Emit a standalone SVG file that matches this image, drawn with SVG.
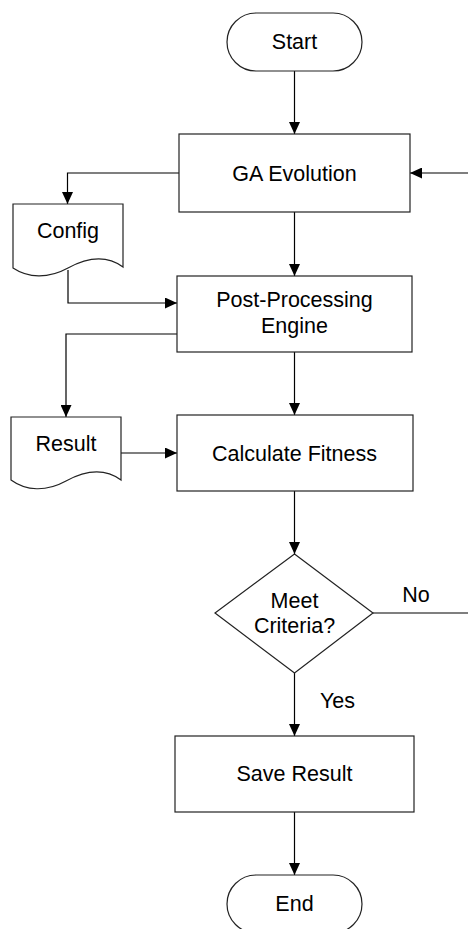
<svg xmlns="http://www.w3.org/2000/svg" width="468" height="929" viewBox="0 0 468 929">
  <defs>
    <marker id="arrow" markerUnits="userSpaceOnUse" markerWidth="12" markerHeight="11" refX="12" refY="5.5" orient="auto">
      <path d="M0,0 L12,5.5 L0,11 Z" fill="#000"/>
    </marker>
    <style>
      .shape { fill: #fff; stroke: #222; stroke-width: 1.2; }
      .wire { fill: none; stroke: #000; stroke-width: 1.2; }
      .arr { marker-end: url(#arrow); }
      text { font-family: "Liberation Sans", Arial, sans-serif; font-size: 21.5px; fill: #000; text-anchor: middle; }
    </style>
  </defs>

  <rect width="468" height="929" fill="#fff"/>

  <g id="connectors">
    <path class="wire arr" d="M294.5,71 V134"/>
    <path class="wire arr" d="M468,173 H410"/>
    <path class="wire arr" d="M179,173 H67.5 V204"/>
    <path class="wire arr" d="M294.5,212 V276"/>
    <path class="wire arr" d="M68,270 V303 H177"/>
    <path class="wire arr" d="M177,334 H66 V417"/>
    <path class="wire arr" d="M294.5,352 V415"/>
    <path class="wire arr" d="M121,453 H177"/>
    <path class="wire arr" d="M294.5,491 V554"/>
    <path class="wire" d="M373,613 H468"/>
    <path class="wire arr" d="M294.5,673 V736"/>
    <path class="wire arr" d="M294.5,812 V875"/>
  </g>

  <g id="start">
    <rect class="shape" x="227" y="13" width="135" height="58" rx="29" ry="29"/>
    <text x="294.5" y="49">Start</text>
  </g>

  <g id="ga-evolution">
    <rect class="shape" x="179" y="134" width="231" height="78"/>
    <text x="294.5" y="180.5">GA Evolution</text>
  </g>

  <g id="config">
    <path class="shape" d="M13,204 H123 V267 C108,256 90,256 68,268 C48,279 28,278 13,268 Z"/>
    <text x="68" y="238">Config</text>
  </g>

  <g id="post-processing">
    <rect class="shape" x="177" y="276" width="235" height="76"/>
    <text x="294.5" y="307">Post-Processing</text>
    <text x="294.5" y="333">Engine</text>
  </g>

  <g id="result">
    <path class="shape" d="M11,417 H121 V480 C106,469 88,469 66,481 C46,492 26,491 11,480 Z"/>
    <text x="66" y="451">Result</text>
  </g>

  <g id="calculate-fitness">
    <rect class="shape" x="177" y="415" width="236" height="76"/>
    <text x="294.5" y="460.5">Calculate Fitness</text>
  </g>

  <g id="meet-criteria">
    <path class="shape" d="M294.5,554 L373,613 L294.5,673 L215,613 Z"/>
    <text x="294.5" y="607.5">Meet</text>
    <text x="294.5" y="633">Criteria?</text>
  </g>

  <g id="edge-labels">
    <text x="416" y="602">No</text>
    <text x="337.5" y="708">Yes</text>
  </g>

  <g id="save-result">
    <rect class="shape" x="175" y="736" width="239" height="76"/>
    <text x="294.5" y="781">Save Result</text>
  </g>

  <g id="end">
    <rect class="shape" x="227" y="875" width="135" height="58" rx="29" ry="29"/>
    <text x="294.5" y="911">End</text>
  </g>
</svg>
